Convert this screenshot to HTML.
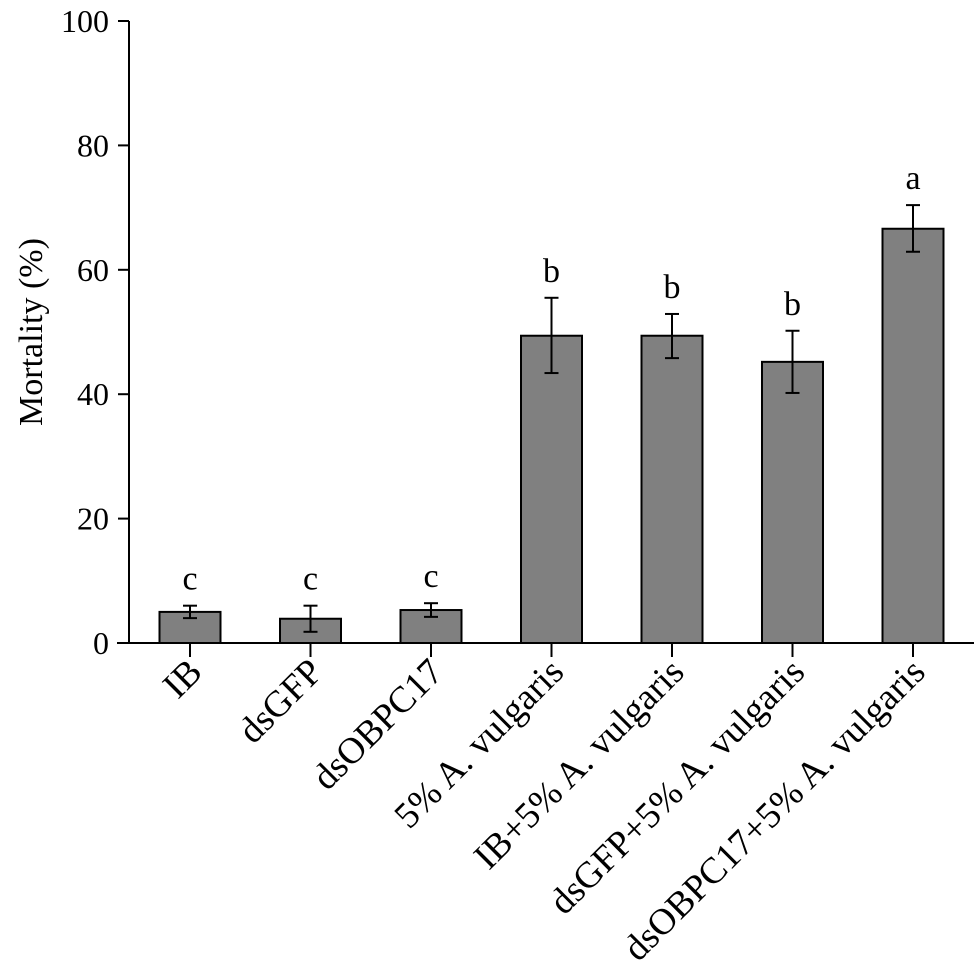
<!DOCTYPE html>
<html><head><meta charset="utf-8"><style>
body{margin:0;background:#fff}
svg{display:block;font-family:"Liberation Serif",serif}
</style></head><body>
<svg id="c" width="980" height="977" viewBox="0 0 980 977"></svg>
<script>
const categories=["IB","dsGFP","dsOBPC17","5% A. vulgaris","IB+5% A. vulgaris","dsGFP+5% A. vulgaris","dsOBPC17+5% A. vulgaris"];
const means=[5.0,3.9,5.3,49.4,49.4,45.2,66.6];
const errUpper=[6.0,6.0,6.4,55.5,52.9,50.2,70.4];
const errLower=[4.0,1.8,4.2,43.4,45.8,40.2,62.9];
const letters=["c","c","c","b","b","b","a"];
const yTicks=[0,20,40,60,80,100];
const NS="http://www.w3.org/2000/svg";
const svg=document.getElementById("c");
const y0=643,y1=21,axX=129;
const y=v=>y0-(v/100)*(y0-y1);
const x=i=>190+i*120.5;
const bw=61;
function mk(t,a,p){const e=document.createElementNS(NS,t);for(const k in a)e.setAttribute(k,a[k]);(p||svg).appendChild(e);return e;}
let e=mk("line",{x1:axX,y1:y1,x2:axX,y2:y0+1,stroke:"#000","stroke-width":2});


e=mk("line",{x1:117,y1:y0,x2:974,y2:y0,stroke:"#000","stroke-width":2});


yTicks.forEach(v=>{
 let t=mk("line",{x1:118,y1:y(v),x2:axX,y2:y(v),stroke:"#000","stroke-width":2});
 
 
 let l=mk("text",{x:109,y:y(v)+11,"text-anchor":"end","font-size":32});
 l.textContent=v;
 
 
});
let yt=mk("text",{x:0,y:0,"text-anchor":"middle","font-size":34,transform:"translate(42,332) rotate(-90)"});
yt.textContent="Mortality (%)";


categories.forEach((c,i)=>{
 const cx=x(i);
 let r=mk("rect",{x:cx-bw/2,y:y(means[i]),width:bw,height:y0-y(means[i]),fill:"#808080",stroke:"#000","stroke-width":2});
 
 
 const g=mk("g",{stroke:"#000","stroke-width":2});
 
 
 mk("line",{x1:cx,y1:y(errUpper[i]),x2:cx,y2:y(errLower[i])},g);
 mk("line",{x1:cx-7,y1:y(errUpper[i]),x2:cx+7,y2:y(errUpper[i])},g);
 mk("line",{x1:cx-7,y1:y(errLower[i]),x2:cx+7,y2:y(errLower[i])},g);
 let lt=mk("text",{x:cx,y:y(errUpper[i])-16,"text-anchor":"middle","font-size":34});
 lt.textContent=letters[i];
 
 
 let tk=mk("line",{x1:cx,y1:y0,x2:cx,y2:657,stroke:"#000","stroke-width":2});
 
 
 let xl=mk("text",{x:0,y:0,"text-anchor":"end","font-size":37,transform:`translate(${cx+14},${674}) rotate(-45)`});
 xl.textContent=c;
 
 
});
</script>
</body></html>
